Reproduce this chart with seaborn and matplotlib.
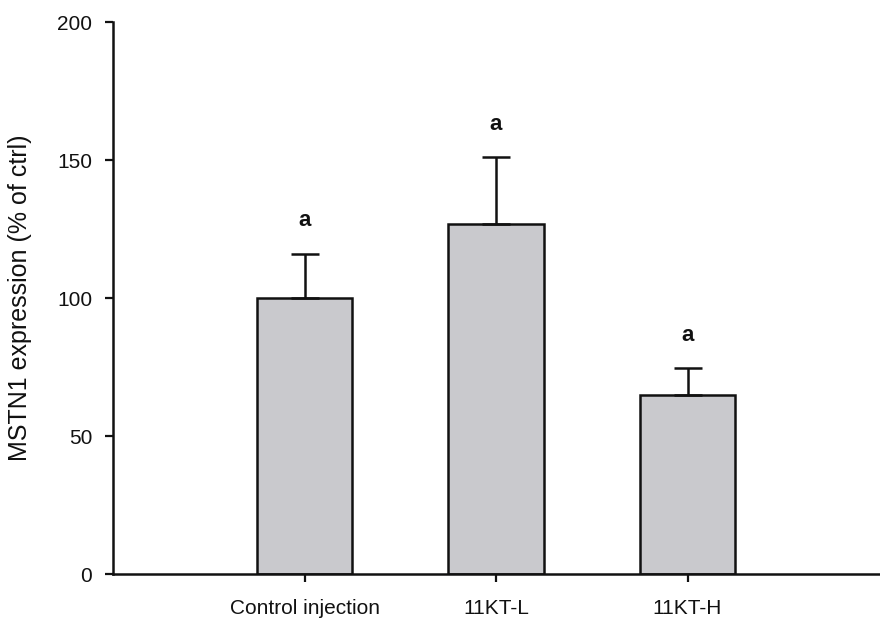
import matplotlib
matplotlib.use("Agg")
import matplotlib.pyplot as plt
import seaborn as sns
import pandas as pd
import numpy as np

categories = ["Control injection", "11KT-L", "11KT-H"]
means = [100, 127, 65]
sem_upper = [16, 24, 9.5]
letters = ["a", "a", "a"]
yticks = [0, 50, 100, 150, 200]

sns.set_theme(style="ticks")
plt.rcParams["font.family"] = ["Liberation Sans", "DejaVu Sans"]

df = pd.DataFrame({"group": categories, "value": means})

fig = plt.figure(figsize=(8.8, 6.26), dpi=100)
ax = fig.add_axes([0.1284, 0.083, 0.8705, 0.8818])

sns.barplot(data=df, x="group", y="value", order=categories, color="#c9c9cd",
            saturation=1, width=0.5, edgecolor="#111111", linewidth=1.8,
            errorbar=None, ax=ax)

xpos = np.arange(len(categories))
ax.errorbar(xpos, means, yerr=[np.zeros(len(means)), sem_upper], fmt="none",
            ecolor="#111111", elinewidth=1.8, capsize=10, capthick=1.8, zorder=3)

for x, m, e, l in zip(xpos, means, sem_upper, letters):
    ax.text(x, m + e + 12, l, ha="center", va="center", fontsize=16,
            fontweight="semibold", color="#111111")

ax.set_xlim(-1, 3)
ax.set_ylim(0, 200)
ax.set_yticks(yticks)
ax.set_yticklabels([str(t) for t in yticks])
ax.set_xlabel("")
ax.set_ylabel("MSTN1 expression (% of ctrl)", fontsize=18, color="#111111", labelpad=18)
ax.tick_params(axis="both", labelsize=15, colors="#111111", width=1.6, length=6)
ax.tick_params(axis="x", pad=12)
ax.tick_params(axis="y", pad=9)
for s in ["top", "right"]:
    ax.spines[s].set_visible(False)
for s in ["left", "bottom"]:
    ax.spines[s].set_linewidth(1.8)
    ax.spines[s].set_color("#111111")

fig.savefig("out.png", dpi=100)
